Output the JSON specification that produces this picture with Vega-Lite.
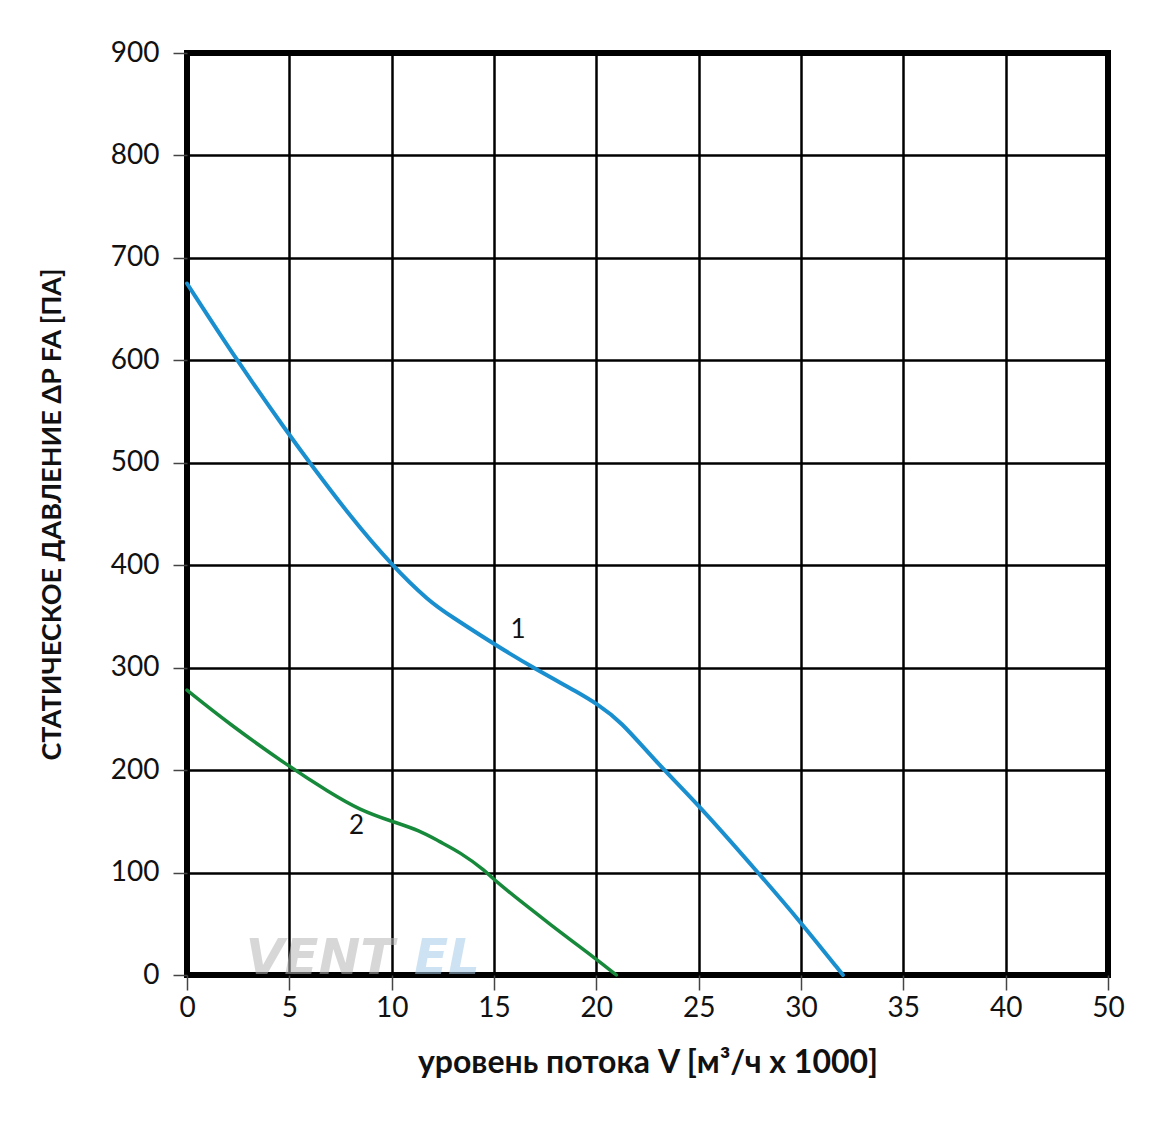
{
  "$schema": "https://vega.github.io/schema/vega-lite/v6.json",
  "width": 921,
  "height": 922,
  "autosize": {"type": "none"},
  "padding": {"left": 187, "top": 53, "right": 53, "bottom": 146},
  "background": "white",
  "config": {
    "view": {"stroke": "#000000", "strokeWidth": 6},
    "font": "Lato",
    "axis": {
      "grid": true,
      "gridColor": "#000000",
      "gridWidth": 2.5,
      "gridOpacity": 1,
      "domain": false,
      "tickColor": "#444444",
      "tickWidth": 1.5,
      "labelFont": "Lato",
      "labelFontSize": 28,
      "labelColor": "#111111",
      "labelFlush": false,
      "labelOverlap": false,
      "labelBound": false,
      "titleFont": "Lato",
      "titleFontWeight": "bold",
      "titleColor": "#111111"
    }
  },
  "datasets": {
    "curves": [
      {"series": "1", "flow": 0, "pressure": 675},
      {"series": "1", "flow": 2.43, "pressure": 600},
      {"series": "1", "flow": 5, "pressure": 527},
      {"series": "1", "flow": 6, "pressure": 500},
      {"series": "1", "flow": 8, "pressure": 447},
      {"series": "1", "flow": 10, "pressure": 400},
      {"series": "1", "flow": 11.87, "pressure": 364},
      {"series": "1", "flow": 12.84, "pressure": 351},
      {"series": "1", "flow": 15, "pressure": 323},
      {"series": "1", "flow": 16.9, "pressure": 300},
      {"series": "1", "flow": 19.19, "pressure": 275},
      {"series": "1", "flow": 20, "pressure": 265},
      {"series": "1", "flow": 21.14, "pressure": 249},
      {"series": "1", "flow": 23, "pressure": 206},
      {"series": "1", "flow": 25, "pressure": 166},
      {"series": "1", "flow": 27.9, "pressure": 100},
      {"series": "1", "flow": 29.97, "pressure": 52},
      {"series": "1", "flow": 32.05, "pressure": 0},
      {"series": "2", "flow": 0, "pressure": 278},
      {"series": "2", "flow": 2, "pressure": 246},
      {"series": "2", "flow": 4.87, "pressure": 205},
      {"series": "2", "flow": 6.98, "pressure": 178},
      {"series": "2", "flow": 8.45, "pressure": 161},
      {"series": "2", "flow": 10, "pressure": 150},
      {"series": "2", "flow": 11.38, "pressure": 141},
      {"series": "2", "flow": 12.35, "pressure": 130},
      {"series": "2", "flow": 13.33, "pressure": 120},
      {"series": "2", "flow": 14.63, "pressure": 101},
      {"series": "2", "flow": 14.96, "pressure": 93},
      {"series": "2", "flow": 17.89, "pressure": 47},
      {"series": "2", "flow": 19.97, "pressure": 16},
      {"series": "2", "flow": 20.98, "pressure": 0}
    ],
    "labels": [
      {"series": "1", "flow": 16.18, "pressure": 337, "label": "1"},
      {"series": "2", "flow": 8.28, "pressure": 145, "label": "2"}
    ],
    "logo": [
      {"part": "VENT", "flow": 6.5, "pressure": -9},
      {"part": "EL", "flow": 12.7, "pressure": -9}
    ]
  },
  "encoding": {
    "x": {
      "field": "flow",
      "type": "quantitative",
      "scale": {"domain": [0, 45], "nice": false, "zero": false},
      "axis": {
        "values": [0, 5, 10, 15, 20, 25, 30, 35, 40, 45],
        "labelExpr": "datum.value == 45 ? '50' : datum.label",
        "tickSize": 15,
        "labelPadding": 4,
        "title": "уровень потока V [м³/ч x 1000]",
        "titleFontSize": 32,
        "titlePadding": 25
      }
    },
    "y": {
      "field": "pressure",
      "type": "quantitative",
      "scale": {"domain": [0, 900], "nice": false, "zero": false},
      "axis": {
        "values": [0, 100, 200, 300, 400, 500, 600, 700, 800, 900],
        "tickSize": 14,
        "labelPadding": 14,
        "title": "СТАТИЧЕСКОЕ ДАВЛЕНИЕ ΔP FA [ПА]",
        "titleFontSize": 27,
        "titlePadding": 44
      }
    }
  },
  "layer": [
    {
      "data": {"name": "logo"},
      "mark": {"type": "text", "font": "DejaVu Sans", "fontSize": 50, "fontWeight": "bold", "fontStyle": "italic", "align": "center", "baseline": "bottom", "opacity": 0.55},
      "encoding": {
        "text": {"field": "part"},
        "color": {
          "field": "part",
          "type": "nominal",
          "scale": {"domain": ["VENT", "EL"], "range": ["#b8b8b8", "#a6cbe8"]},
          "legend": null
        }
      }
    },
    {
      "data": {"name": "curves"},
      "mark": {"type": "line", "interpolate": "basis", "strokeCap": "round"},
      "encoding": {
        "color": {
          "field": "series",
          "type": "nominal",
          "scale": {"domain": ["1", "2"], "range": ["#1a8fcf", "#17893b"]},
          "legend": null
        },
        "strokeWidth": {
          "field": "series",
          "type": "nominal",
          "scale": {"domain": ["1", "2"], "range": [4, 3.5]},
          "legend": null
        },
        "order": {"field": "flow", "type": "quantitative"}
      }
    },
    {
      "data": {"name": "labels"},
      "mark": {"type": "text", "font": "Lato", "fontSize": 26, "color": "#111111", "align": "center", "baseline": "middle"},
      "encoding": {"text": {"field": "label"}}
    }
  ],
  "resolve": {"scale": {"color": "independent"}}
}
